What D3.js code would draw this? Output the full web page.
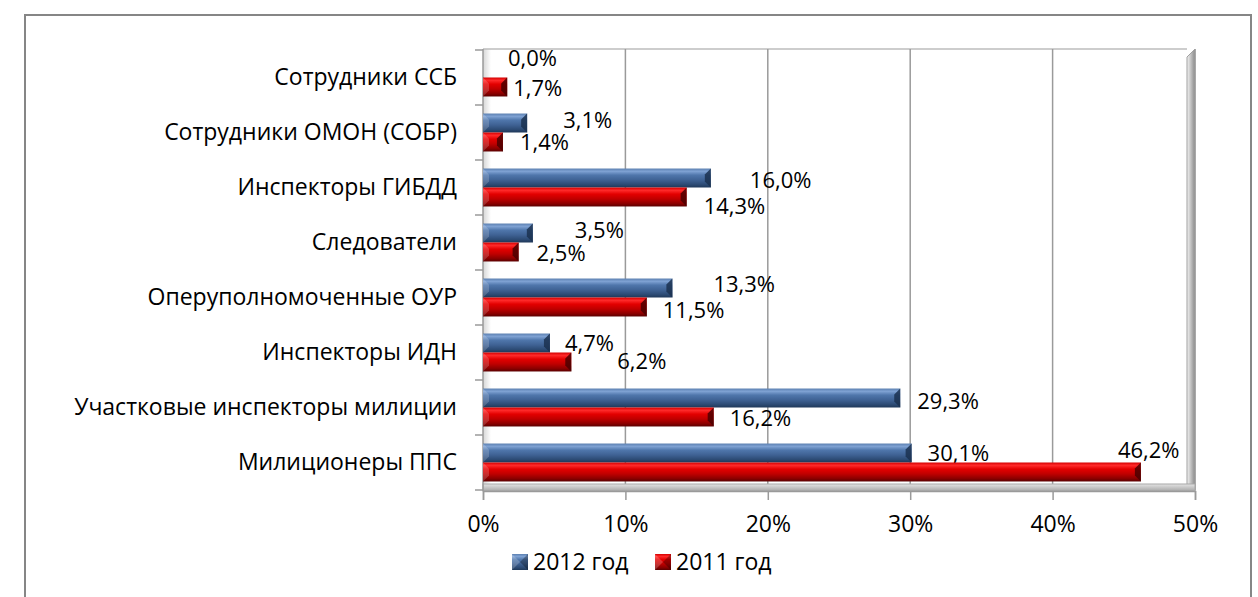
<!DOCTYPE html>
<html>
<head>
<meta charset="utf-8">
<script src="https://cdn.jsdelivr.net/npm/d3@7"></script>
<style>
  body { margin: 0; background: #fff; }
  svg text { font-family: "Open Sans", sans-serif; fill: #000; }
</style>
</head>
<body>
<svg id="chart"></svg>
<script>
// categories, top to bottom
const categories = [
  'Сотрудники ССБ',
  'Сотрудники ОМОН (СОБР)',
  'Инспекторы ГИБДД',
  'Следователи',
  'Оперуполномоченные ОУР',
  'Инспекторы ИДН',
  'Участковые инспекторы милиции',
  'Милиционеры ППС'
];
const series = ['2012 год', '2011 год'];
const values2012 = [0.0, 3.1, 16.0, 3.5, 13.3, 4.7, 29.3, 30.1];
const values2011 = [1.7, 1.4, 14.3, 2.5, 11.5, 6.2, 16.2, 46.2];
const xTicks = [0, 10, 20, 30, 40, 50];

// hand placed data labels in the original, gap from bar end / shift from bar centre
const nudge2012 = [[25, -10], [36, -3], [39, 2], [42, -3], [41, -4], [15, 0], [17, 3], [16, 0]];
const nudge2011 = [[6, 1], [17, 0], [17, 9], [18, 1], [16, 3], [46, -1], [16, 1], [-23, -22]];

const W = 1258, H = 597;
const svg = d3.select('#chart').attr('width', W).attr('height', H);
const defs = svg.append('defs');

// outer chart border
svg.append('rect')
  .attr('x', 25).attr('y', 15).attr('width', 1226).attr('height', 600)
  .attr('fill', '#fff').attr('stroke', '#868686').attr('stroke-width', 2);

const x = d3.scaleLinear().domain([0, 50]).range([483, 1195]);
const y = d3.scaleBand().domain(categories).range([50, 490])
  .paddingInner(0.31).paddingOuter(0.155);
const sub = d3.scaleBand().domain(series).range([0, y.bandwidth()]);

const plotTop = 49, plotBottom = 490;

// gradients
function vGrad(id, stops) {
  const g = defs.append('linearGradient').attr('id', id)
    .attr('x1', 0).attr('y1', 0).attr('x2', 0).attr('y2', 1);
  stops.forEach(s => g.append('stop').attr('offset', s[0]).attr('stop-color', s[1]));
}
vGrad('blueG', [[0, '#5b7fb0'], [0.15, '#7fa2d3'], [0.35, '#4f76ab'], [0.6, '#3f6294'], [0.85, '#2c4a73'], [1, '#1f3859']]);
vGrad('redG', [[0, '#d40000'], [0.15, '#ff2a2a'], [0.35, '#e30000'], [0.6, '#c00000'], [0.85, '#8a0000'], [1, '#5a0000']]);
vGrad('floorG', [[0, '#e4e4e4'], [1, '#a8a8a8']]);
const wallG = defs.append('linearGradient').attr('id', 'wallG')
  .attr('x1', 0).attr('y1', 0).attr('x2', 1).attr('y2', 0);
wallG.append('stop').attr('offset', 0).attr('stop-color', '#f4f4f4');
wallG.append('stop').attr('offset', 1).attr('stop-color', '#8a8a8a');
const leftG = defs.append('linearGradient').attr('id', 'leftG')
  .attr('x1', 0).attr('y1', 0).attr('x2', 1).attr('y2', 0);
leftG.append('stop').attr('offset', 0).attr('stop-color', '#d6d6d6');
leftG.append('stop').attr('offset', 1).attr('stop-color', '#ffffff');

// back wall shading on the left
svg.append('rect')
  .attr('x', x(0)).attr('y', plotTop).attr('width', 8).attr('height', plotBottom - plotTop)
  .attr('fill', 'url(#leftG)');

// top border of wall
svg.append('line')
  .attr('x1', x(0)).attr('x2', x(50) - 8).attr('y1', plotTop).attr('y2', plotTop)
  .attr('stroke', '#bdbdbd').attr('stroke-width', 1.5);

// gridlines
svg.append('g').selectAll('line').data(xTicks.slice(1)).join('line')
  .attr('x1', d => x(d)).attr('x2', d => x(d))
  .attr('y1', plotTop).attr('y2', plotBottom)
  .attr('stroke', '#9a9a9a').attr('stroke-width', 1.5);

// right wall and floor
svg.append('polygon')
  .attr('points', [[x(50) - 8, plotTop + 8], [x(50), plotTop], [x(50), plotBottom + 1], [x(50) - 8, plotBottom - 6]].join(' '))
  .attr('fill', 'url(#wallG)').attr('stroke', '#a0a0a0').attr('stroke-width', 1);
svg.append('rect')
  .attr('x', x(0)).attr('y', plotBottom - 6).attr('width', x(50) - x(0)).attr('height', 7)
  .attr('fill', 'url(#floorG)').attr('stroke', '#a8a8a8').attr('stroke-width', 1);

// x axis
const xAxis = d3.axisBottom(x).tickValues(xTicks).tickFormat(d => d + '%')
  .tickSize(9).tickPadding(16);
const xg = svg.append('g').attr('transform', `translate(0,${plotBottom + 1})`).call(xAxis);
xg.select('.domain').attr('stroke', '#9a9a9a').attr('stroke-width', 1.5);
xg.selectAll('.tick line').attr('stroke', '#9a9a9a').attr('stroke-width', 1.5);
xg.selectAll('.tick text').attr('font-size', 23).attr('font-family', '"Open Sans", sans-serif');

// y axis: category labels, ticks on band boundaries
const yAxis = d3.axisLeft(y).tickSize(0).tickPadding(26);
const yg = svg.append('g').attr('transform', `translate(${x(0)},0)`).call(yAxis);
yg.select('.domain').remove();
yg.selectAll('.tick text').attr('font-size', 23).attr('font-family', '"Open Sans", sans-serif');
const bounds = d3.range(categories.length + 1).map(i => 50 + i * y.step());
svg.append('g').selectAll('line').data(bounds).join('line')
  .attr('x1', x(0) - 8).attr('x2', x(0))
  .attr('y1', d => d).attr('y2', d => d)
  .attr('stroke', '#9a9a9a').attr('stroke-width', 1.5);
svg.append('line')
  .attr('x1', x(0)).attr('x2', x(0)).attr('y1', plotTop).attr('y2', plotBottom + 1)
  .attr('stroke', '#9a9a9a').attr('stroke-width', 1.5);

// bars
const rows = categories.map((c, i) => ({
  cat: c,
  vals: [
    { s: series[0], v: values2012[i], n: nudge2012[i], fill: 'url(#blueG)', cap: '#1b3150' },
    { s: series[1], v: values2011[i], n: nudge2011[i], fill: 'url(#redG)', cap: '#4a0000' }
  ]
}));

const groups = svg.append('g').selectAll('g').data(rows).join('g')
  .attr('transform', d => `translate(0,${y(d.cat)})`);

const bars = groups.selectAll('g.bar').data(d => d.vals).join('g').attr('class', 'bar');

bars.filter(d => d.v > 0).append('rect')
  .attr('x', x(0))
  .attr('y', d => sub(d.s))
  .attr('width', d => x(d.v) - x(0))
  .attr('height', sub.bandwidth())
  .attr('fill', d => d.fill);

// bevelled ends
bars.filter(d => d.v > 0).append('polygon')
  .attr('points', d => {
    const x1 = x(d.v), y0 = sub(d.s), h = sub.bandwidth(), b = Math.min(6, (x(d.v) - x(0)) / 2);
    return [[x1 - b, y0 + b], [x1, y0], [x1, y0 + h], [x1 - b, y0 + h - b]].join(' ');
  })
  .attr('fill', d => d.cap).attr('opacity', 0.85);
bars.filter(d => d.v > 0).append('polygon')
  .attr('points', d => {
    const x0 = x(0), y0 = sub(d.s), h = sub.bandwidth(), b = Math.min(6, (x(d.v) - x(0)) / 2);
    return [[x0, y0], [x0 + b, y0 + b], [x0 + b, y0 + h - b], [x0, y0 + h]].join(' ');
  })
  .attr('fill', '#fff').attr('opacity', 0.18);

// data labels
bars.append('text')
  .attr('x', d => x(d.v) + d.n[0])
  .attr('y', d => sub(d.s) + sub.bandwidth() / 2 + d.n[1])
  .attr('dy', '0.35em')
  .attr('font-size', 22)
  .text(d => d.v.toFixed(1).replace('.', ',') + '%');

// legend
const legend = svg.append('g').attr('transform', 'translate(512,554)');
const legendFills = ['url(#blueG)', 'url(#redG)'];
const legendX = [0, 143];
series.forEach((s, i) => {
  const g = legend.append('g').attr('transform', `translate(${legendX[i]},0)`);
  g.append('rect').attr('width', 16).attr('height', 16).attr('fill', legendFills[i]);
  g.append('polygon').attr('points', '0,0 8,8 0,16').attr('fill', '#fff').attr('opacity', 0.2);
  g.append('polygon').attr('points', '16,0 8,8 16,16').attr('fill', '#000').attr('opacity', 0.3);
  g.append('text').attr('x', 21).attr('y', 8).attr('dy', '0.35em')
    .attr('font-size', 23).text(s);
});
</script>
</body>
</html>
